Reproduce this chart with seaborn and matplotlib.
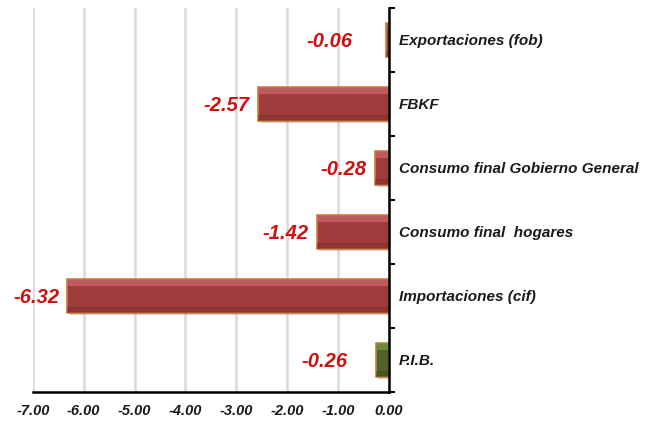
import matplotlib
matplotlib.use("Agg")
import matplotlib.pyplot as plt
import matplotlib.patheffects as pe
from matplotlib.patches import Rectangle
import numpy as np
import pandas as pd
import seaborn as sns

# Contributions (percentage points), top to bottom as drawn
categories = ["Exportaciones (fob)", "FBKF", "Consumo final Gobierno General",
              "Consumo final  hogares", "Importaciones (cif)", "P.I.B."]
values = [-0.06, -2.57, -0.28, -1.42, -6.32, -0.26]
value_labels = ["-0.06", "-2.57", "-0.28", "-1.42", "-6.32", "-0.26"]
x_ticks = [-7, -6, -5, -4, -3, -2, -1, 0]

RED = "#9E3B3B"
GREEN = "#4F6228"
EDGE = "#C8843E"
colors = {c: (GREEN if c == "P.I.B." else RED) for c in categories}
# manual nudges of the value labels (points), like the hand-placed Excel labels
nudge = {"Exportaciones (fob)": -18, "P.I.B.": -14,
         "Consumo final Gobierno General": 0}

df = pd.DataFrame({"cat": categories, "val": values, "lab": value_labels})

sns.set_style("white")
plt.rcParams["font.family"] = ["Liberation Sans", "DejaVu Sans"]

fig = plt.figure(figsize=(6.45, 4.21), dpi=100)
ax = fig.add_axes([0.051, 0.069, 0.552, 0.912])

sns.barplot(data=df, y="cat", x="val", hue="cat", palette=colors,
            order=categories, orient="h", width=0.52, legend=False,
            edgecolor=EDGE, linewidth=1.2, saturation=1, ax=ax, zorder=3)

# bevel-like highlight/shade and soft shadow on each bar
for patch in list(ax.patches):
    patch.set_path_effects([pe.SimplePatchShadow(offset=(2, -2), alpha=0.2),
                            pe.Normal()])
    x0, y0 = patch.get_x(), patch.get_y()
    w, h = patch.get_width(), patch.get_height()
    is_red = patch.get_facecolor()[1] < 0.3
    light = "#CC6666" if is_red else "#7A9446"
    dark = "#7E2C2C" if is_red else "#3B4A1E"
    ax.add_patch(Rectangle((x0, y0), w, h * 0.2, facecolor=light,
                           edgecolor="none", alpha=0.75, zorder=4))
    ax.add_patch(Rectangle((x0, y0 + h * 0.82), w, h * 0.18, facecolor=dark,
                           edgecolor="none", alpha=0.5, zorder=4))

for i, row in df.iterrows():
    ax.annotate(row["lab"], xy=(row["val"], i),
                xytext=(-6 + nudge.get(row["cat"], 0), -1),
                textcoords="offset points", ha="right", va="center",
                color="#D01010", fontsize=14.5, fontweight="bold",
                fontstyle="italic")

ax.set_xlim(-7, 0)
ax.set_ylim(len(categories) - 0.5, -0.5)
ax.set_xticks(x_ticks)
ax.set_xticklabels([f"{t:.2f}" for t in x_ticks])
ax.xaxis.grid(True, color="#D9D9D9", linewidth=1.8, zorder=0)
ax.set_axisbelow(True)

ax.yaxis.tick_right()
ax.tick_params(axis="y", which="major", length=0, pad=7)
ax.set_yticks(np.arange(len(categories) + 1) - 0.5, minor=True)
ax.tick_params(axis="y", which="minor", right=True, direction="out",
               length=4, width=1.5, color="black")
for lbl in ax.get_yticklabels():
    lbl.set_fontweight("bold")
    lbl.set_fontstyle("italic")
    lbl.set_fontsize(11)
    lbl.set_color("#1A1A1A")

ax.tick_params(axis="x", direction="out", length=5, width=1.5,
               color="black", pad=4)
for lbl in ax.get_xticklabels():
    lbl.set_fontweight("bold")
    lbl.set_fontstyle("italic")
    lbl.set_fontsize(10.5)
    lbl.set_color("#1A1A1A")

ax.set_xlabel("")
ax.set_ylabel("")
for side in ["left", "top"]:
    ax.spines[side].set_visible(False)
for side in ["right", "bottom"]:
    ax.spines[side].set_color("black")
    ax.spines[side].set_linewidth(1.8)
ax.spines["right"].set_zorder(6)

fig.savefig("out.png", dpi=100)
